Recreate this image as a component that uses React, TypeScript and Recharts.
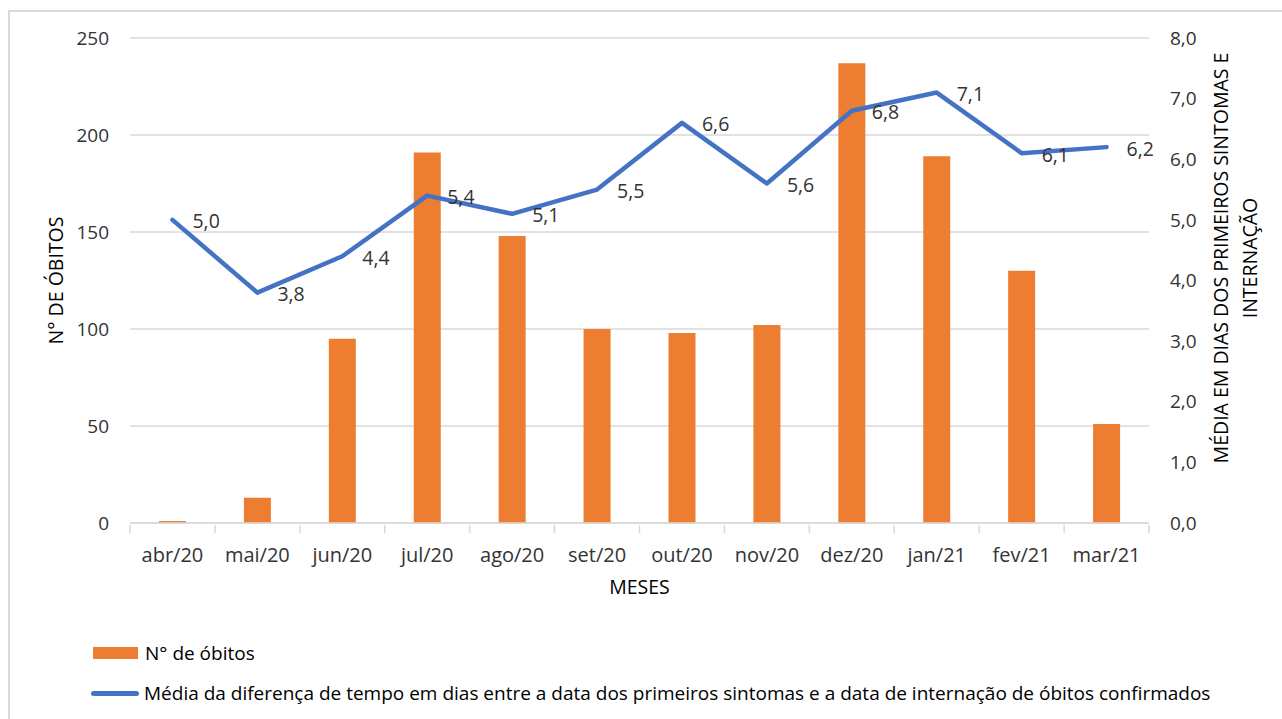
import { ComposedChart, Bar, Line, XAxis, YAxis, CartesianGrid, LabelList, Label } from "recharts";

const months = ["abr/20", "mai/20", "jun/20", "jul/20", "ago/20", "set/20", "out/20", "nov/20", "dez/20", "jan/21", "fev/21", "mar/21"];
const obitos = [1, 13, 95, 191, 148, 100, 98, 102, 237, 189, 130, 51];
const mediaDias = [5.0, 3.8, 4.4, 5.4, 5.1, 5.5, 6.6, 5.6, 6.8, 7.1, 6.1, 6.2];
const leftTicks = [0, 50, 100, 150, 200, 250];
const rightTicks = [0, 1, 2, 3, 4, 5, 6, 7, 8];

const barName = "N° de óbitos";
const lineName = "Média da diferença de tempo em dias entre a data dos primeiros sintomas e a data de internação de óbitos confirmados";

const ORANGE = "#ED7D31";
const BLUE = "#4472C4";
const GRID = "#d9d9d9";
const TXT = "#333";
const FONT = "'Open Sans', sans-serif";

const W = 1282;
const H = 719;
const PLOT_L = 130;
const PLOT_R = 1149;
const PLOT_T = 38;
const PLOT_B = 523;
const BW = (PLOT_R - PLOT_L) / months.length;

const data = months.map((m, i) => ({ month: m, obitos: obitos[i], media: mediaDias[i] }));

const fmt1 = (v: number) => v.toFixed(1).replace(".", ",");

function MonthTick(props: any) {
  const { x, y, payload, index } = props;
  return (
    <g>
      <line x1={x - BW / 2} x2={x - BW / 2} y1={y} y2={y + 8} stroke={GRID} strokeWidth={1.5} />
      {index === months.length - 1 && (
        <line x1={x + BW / 2} x2={x + BW / 2} y1={y} y2={y + 8} stroke={GRID} strokeWidth={1.5} />
      )}
      <text x={x} y={y + 29} textAnchor="middle" dominantBaseline="central" fill={TXT} fontSize={20} fontFamily={FONT}>
        {payload.value}
      </text>
    </g>
  );
}

function PointLabel(props: any) {
  const { x, y, value } = props;
  return (
    <text x={x + 20} y={y + 1} dominantBaseline="central" fill={TXT} fontSize={19.5} fontFamily={FONT}>
      {fmt1(value)}
    </text>
  );
}

function LeftTitle(props: any) {
  const vb = props.viewBox;
  const cx = vb.x + 55;
  const cy = vb.y + vb.height / 2;
  return (
    <text x={cx} y={cy} transform={`rotate(-90 ${cx} ${cy})`} textAnchor="middle" dominantBaseline="central" fill="#000" fontSize={19.5} fontFamily={FONT}>
      N° DE ÓBITOS
    </text>
  );
}

function RightTitle(props: any) {
  const vb = props.viewBox;
  const cx = vb.x + 71;
  const cy = 258;
  return (
    <text transform={`rotate(-90 ${cx} ${cy})`} textAnchor="middle" fill="#000" fontSize={19.5} fontFamily={FONT}>
      <tspan x={cx} y={cy} dominantBaseline="central">MÉDIA EM DIAS DOS PRIMEIROS SINTOMAS E</tspan>
      <tspan x={cx} y={cy + 29} dominantBaseline="central">INTERNAÇÃO</tspan>
    </text>
  );
}

export default function App() {
  return (
    <div style={{ position: "absolute", left: 0, top: 0, width: W, height: H, overflow: "hidden", background: "#fff" }}>
      <div style={{ position: "absolute", left: 8, top: 10, width: W, height: H, borderLeft: `2px solid ${GRID}`, borderTop: `2px solid ${GRID}`, boxSizing: "border-box" }} />
      <div style={{ position: "absolute", left: 0, top: 0 }}>
        <ComposedChart width={W} height={H} data={data} margin={{ top: PLOT_T, right: 0, bottom: 0, left: 0 }}>
          <CartesianGrid yAxisId="left" horizontal vertical={false} stroke={GRID} strokeWidth={1.5} />
          <XAxis dataKey="month" height={H - PLOT_B} interval={0} tickSize={0} tickLine={false} axisLine={{ stroke: GRID, strokeWidth: 1.5 }} tick={<MonthTick />}>
            <Label value="MESES" position="insideTop" offset={57} fill="#000" fontSize={19.5} fontFamily={FONT} />
          </XAxis>
          <YAxis yAxisId="left" orientation="left" width={PLOT_L} domain={[0, 250]} ticks={leftTicks} interval={0} axisLine={false} tickLine={false} tickSize={0} tickMargin={21} tick={{ fill: TXT, fontSize: 19, fontFamily: FONT }}>
            <Label content={<LeftTitle />} />
          </YAxis>
          <YAxis yAxisId="right" orientation="right" width={W - PLOT_R} domain={[0, 8]} ticks={rightTicks} interval={0} axisLine={false} tickLine={false} tickSize={0} tickMargin={21} tickFormatter={fmt1} tick={{ fill: TXT, fontSize: 19, fontFamily: FONT, textAnchor: "start" }}>
            <Label content={<RightTitle />} />
          </YAxis>
          <Bar yAxisId="left" dataKey="obitos" name={barName} fill={ORANGE} barSize={27} isAnimationActive={false} />
          <Line yAxisId="right" dataKey="media" name={lineName} type="linear" stroke={BLUE} strokeWidth={4.5} strokeLinejoin="round" strokeLinecap="round" dot={false} activeDot={false} isAnimationActive={false}>
            <LabelList dataKey="media" content={<PointLabel />} />
          </Line>
        </ComposedChart>
      </div>
      <div style={{ position: "absolute", left: 93, top: 640, fontFamily: FONT, fontSize: 19, color: "#000" }}>
        <div style={{ display: "flex", alignItems: "center", height: 26 }}>
          <span style={{ display: "inline-block", width: 45, height: 12, background: ORANGE, marginRight: 7 }} />
          <span>{barName}</span>
        </div>
        <div style={{ display: "flex", alignItems: "center", height: 26, marginTop: 14 }}>
          <span style={{ display: "inline-block", width: 48, height: 5, borderRadius: 3, background: BLUE, marginRight: 5, marginLeft: -2 }} />
          <span style={{ whiteSpace: "nowrap" }}>{lineName}</span>
        </div>
      </div>
    </div>
  );
}
